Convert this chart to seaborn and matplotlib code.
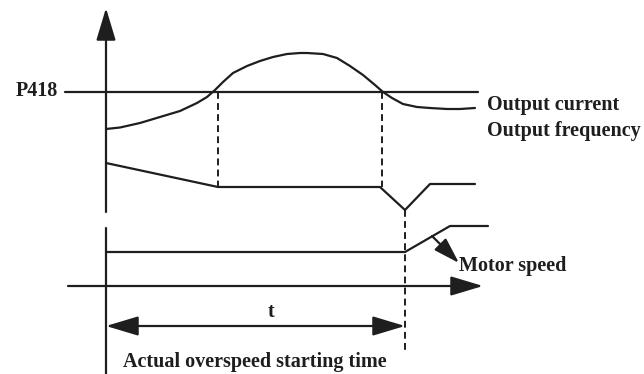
import numpy as np
import pandas as pd
import seaborn as sns
import matplotlib.pyplot as plt

# curves (pixel units, y grows downward)
current_x = [106, 120, 140, 160, 180, 197, 207, 215, 223, 233, 247, 260, 273, 287, 300, 307, 323,
             337, 350, 363, 375, 383, 392, 403, 417, 430, 447, 460, 475]
current_y = [129, 127.5, 123, 117, 111, 103, 97, 90, 82, 73, 66, 61, 57, 54, 53, 53, 54,
             58, 66, 75, 85, 92, 98, 104, 107, 108, 109, 109, 108]

freq_x = [106, 218, 380, 405, 430, 475]
freq_y = [163, 187, 187, 210, 184, 184]

speed_x = [106, 405, 450, 488]
speed_y = [252, 252, 226, 226]

p418_x = [65, 478]
p418_y = [92, 92]

# dashed markers: (x, y_top, y_bottom)
dash_x = [218, 382, 405]
dash_top = [92, 92, 210]
dash_bottom = [187, 187, 353]

label_color = "#1e1e1e"

sns.set_style("white")
plt.rcParams['font.family'] = ['Liberation Serif', 'DejaVu Serif']

fig = plt.figure(figsize=(6.44, 3.74), dpi=100)
ax = fig.add_axes([0, 0, 1, 1])
ax.set_xlim(0, 644)
ax.set_ylim(374, 0)
ax.axis("off")

lw = 1.6
sns.lineplot(x=current_x, y=current_y, sort=False, color=label_color, lw=lw, ax=ax)
sns.lineplot(x=freq_x, y=freq_y, sort=False, color=label_color, lw=lw, ax=ax)
sns.lineplot(x=speed_x, y=speed_y, sort=False, color=label_color, lw=lw, ax=ax)
sns.lineplot(x=p418_x, y=p418_y, sort=False, color=label_color, lw=lw, ax=ax)

for x, y0, y1 in zip(dash_x, dash_top, dash_bottom):
    ax.plot([x, x], [y0, y1], color=label_color, lw=1.4, ls=(0, (3.5, 2.2)))

arrow = dict(arrowstyle="-|>,head_length=2.0,head_width=0.6", color=label_color,
             lw=lw, mutation_scale=10, shrinkA=0, shrinkB=0)

# vertical axis (broken)
ax.annotate("", xy=(106, 8), xytext=(106, 212), arrowprops=arrow)
ax.plot([106, 106], [228, 374], color=label_color, lw=lw)

# time axis
ax.annotate("", xy=(483, 286), xytext=(68, 286), arrowprops=arrow)

# t span
ax.annotate("", xy=(405, 326), xytext=(106, 326),
            arrowprops=dict(arrowstyle="<|-|>,head_length=2.0,head_width=0.6", color=label_color,
                            lw=lw, mutation_scale=10, shrinkA=0, shrinkB=0))

# motor speed pointer
ax.annotate("", xy=(459, 263), xytext=(432, 236),
            arrowprops=dict(arrowstyle="-|>,head_length=1.6,head_width=0.5", color=label_color,
                            lw=lw, mutation_scale=10, shrinkA=0, shrinkB=0))

fs = 14.5
bold = dict(fontsize=fs, fontweight="bold", color=label_color)
ax.text(58, 91, "P418", ha="right", va="center", **bold)
ax.text(487, 110, "Output current", ha="left", va="baseline", **bold)
ax.text(487, 136, "Output frequency", ha="left", va="baseline", **bold)
ax.text(459, 271, "Motor speed", ha="left", va="baseline", **bold)
ax.text(271, 317, "t", ha="center", va="baseline", **bold)
ax.text(123, 367, "Actual overspeed starting time", ha="left", va="baseline", **bold)

fig.savefig("out.png", dpi=100)
